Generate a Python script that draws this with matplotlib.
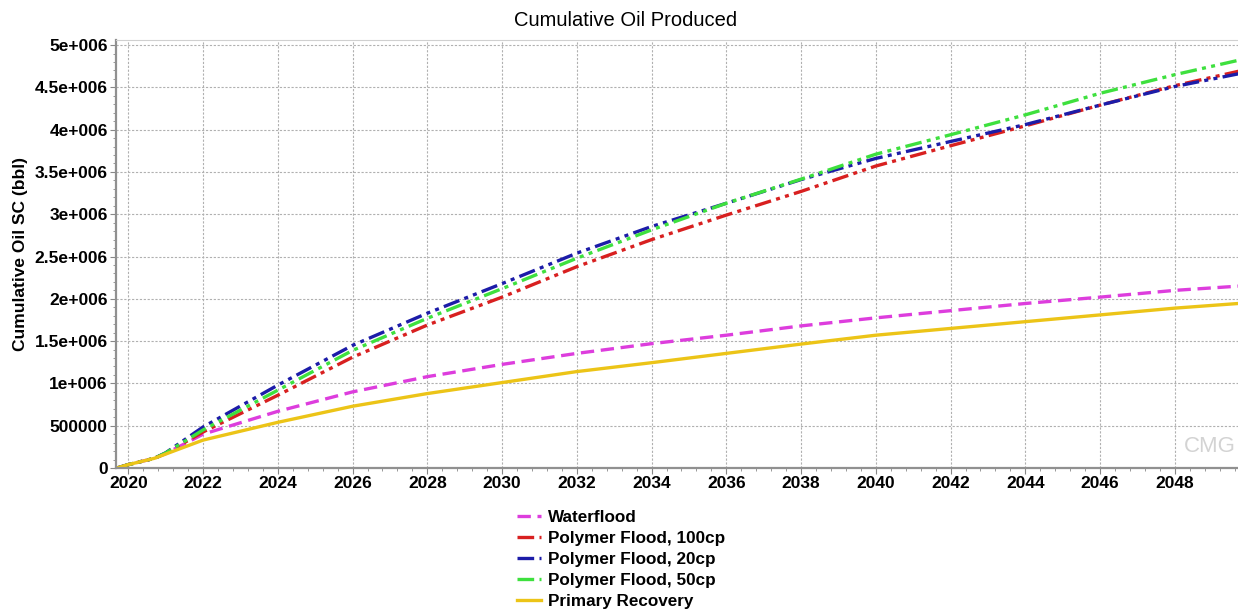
import numpy as np
import matplotlib.pyplot as plt
from matplotlib.ticker import MultipleLocator, FixedLocator

plt.rcParams['font.family'] = ['Liberation Sans', 'DejaVu Sans']

# годы и накопленная добыча нефти (bbl)
years = [2019.7, 2020.0, 2020.7, 2021.0, 2022, 2024, 2026, 2028, 2030, 2032,
         2034, 2036, 2038, 2040, 2042, 2044, 2046, 2048, 2049.7]

waterflood = [0, 40e3, 115e3, 170e3, 400e3, 670e3, 900e3, 1.08e6, 1.225e6, 1.355e6,
              1.47e6, 1.57e6, 1.68e6, 1.775e6, 1.86e6, 1.945e6, 2.02e6, 2.10e6, 2.15e6]
poly_100 = [0, 40e3, 115e3, 175e3, 426e3, 860e3, 1.31e6, 1.69e6, 2.02e6, 2.38e6,
            2.70e6, 2.99e6, 3.27e6, 3.57e6, 3.81e6, 4.045e6, 4.29e6, 4.52e6, 4.69e6]
poly_20 = [0, 40e3, 115e3, 180e3, 485e3, 980e3, 1.45e6, 1.83e6, 2.18e6, 2.54e6,
           2.855e6, 3.13e6, 3.41e6, 3.66e6, 3.86e6, 4.06e6, 4.29e6, 4.51e6, 4.66e6]
poly_50 = [0, 40e3, 115e3, 178e3, 450e3, 920e3, 1.39e6, 1.77e6, 2.12e6, 2.48e6,
           2.815e6, 3.13e6, 3.415e6, 3.71e6, 3.94e6, 4.175e6, 4.43e6, 4.65e6, 4.82e6]
primary = [0, 40e3, 115e3, 165e3, 330e3, 540e3, 730e3, 880e3, 1.01e6, 1.14e6,
           1.245e6, 1.355e6, 1.465e6, 1.57e6, 1.65e6, 1.73e6, 1.81e6, 1.89e6, 1.945e6]

y_ticks = [0, 0.5e6, 1e6, 1.5e6, 2e6, 2.5e6, 3e6, 3.5e6, 4e6, 4.5e6, 5e6]
y_labels = ['0', '500000', '1e+006', '1.5e+006', '2e+006', '2.5e+006',
            '3e+006', '3.5e+006', '4e+006', '4.5e+006', '5e+006']
x_ticks = list(range(2020, 2050, 2))

fig = plt.figure(figsize=(12.38, 6.16), dpi=100)
ax = fig.add_axes([116 / 1238, 1 - 468 / 616, 1 - 116 / 1238, (468 - 40) / 616])

ddot = (5, 1.6, 1.2, 1.6, 1.2, 1.6)  # штрих-точка-точка
ax.plot(years, waterflood, color='#dd3ddd', lw=2.4, dashes=(4, 2), label='Waterflood')
ax.plot(years, poly_100, color='#d82020', lw=2.4, dashes=ddot, label='Polymer Flood, 100cp')
ax.plot(years, poly_20, color='#1c1ca8', lw=2.4, dashes=ddot, label='Polymer Flood, 20cp')
ax.plot(years, poly_50, color='#3ee03e', lw=2.4, dashes=ddot, label='Polymer Flood, 50cp')
ax.plot(years, primary, color='#ecc417', lw=2.4, label='Primary Recovery')

ax.set_xlim(2019.67, 2049.69)
ax.set_ylim(0, 5.06e6)
ax.xaxis.set_major_locator(FixedLocator(x_ticks))
ax.xaxis.set_minor_locator(MultipleLocator(0.4))
ax.yaxis.set_major_locator(FixedLocator(y_ticks))
ax.yaxis.set_minor_locator(MultipleLocator(1e5))
ax.set_yticklabels(y_labels)

ax.grid(True, which='major', color='#b0b0b0', ls=(0, (2, 1.5)), lw=0.8)
ax.tick_params(axis='both', which='major', labelsize=12.5, length=4, color='#888888', pad=2)
ax.tick_params(axis='both', which='minor', length=2, color='#888888')
for lab in ax.get_xticklabels() + ax.get_yticklabels():
    lab.set_fontweight('bold')

for side in ['left', 'bottom']:
    ax.spines[side].set_color('#909090')
    ax.spines[side].set_linewidth(1.6)
ax.spines['top'].set_color('#d0d0d0')
ax.spines['right'].set_visible(False)

ax.set_ylabel('Cumulative Oil SC (bbl)', fontsize=12.5, fontweight='bold', labelpad=5)
fig.text(0.505, 1 - 20 / 616, 'Cumulative Oil Produced', ha='center', va='center', fontsize=14.5)

# логотип CMG
ax.text(0.998, 0.05, 'CMG', transform=ax.transAxes, ha='right', va='center',
        fontsize=16, color='#c8c8c8', alpha=0.8)

fig.legend(loc='upper left', bbox_to_anchor=(510 / 1238, 1 - 503 / 616), frameon=False,
           prop={'weight': 'bold', 'size': 12.3}, handlelength=1.4, handletextpad=0.45,
           labelspacing=0.36, borderaxespad=0)

fig.savefig('out.png', dpi=100)
